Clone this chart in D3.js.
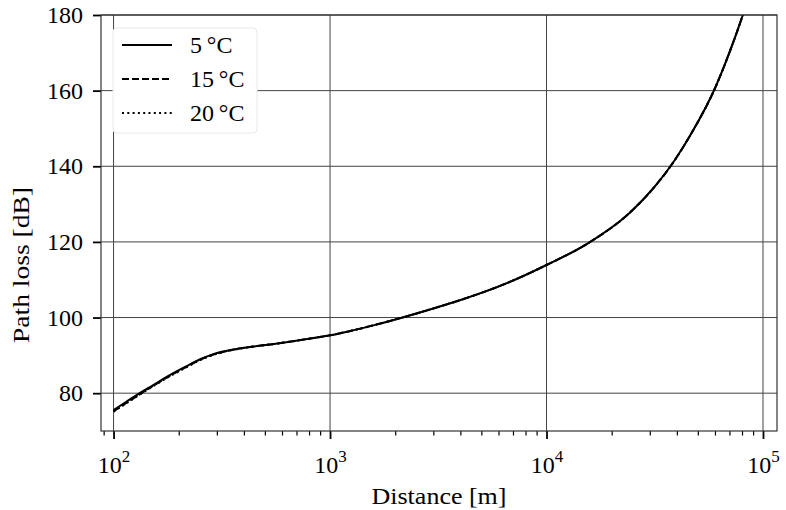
<!DOCTYPE html>
<html>
<head>
<meta charset="utf-8">
<script src="https://cdn.jsdelivr.net/npm/d3@7"></script>
<style>
  html, body { margin: 0; padding: 0; background: #fff; }
  svg { display: block; }
  text { font-family: "Liberation Serif", "DejaVu Serif", serif; fill: #000; }
</style>
</head>
<body>
<svg id="chart" width="786" height="510"></svg>
<script>
// ---- data ----
const distances = [100, 115, 132, 150, 181, 215, 250, 285, 320, 370, 426, 530, 651, 800, 1000, 1230, 1600, 2185, 3000, 4140, 6560, 10000, 15600, 23900, 31600, 39100, 46700, 60300, 70000, 80900, 100000];
const loss5C  = [75.5, 77.8, 80.0, 81.9, 84.7, 87.0, 88.9, 90.2, 91.0, 91.7, 92.2, 92.9, 93.6, 94.4, 95.3, 96.4, 98.0, 100.1, 102.4, 104.9, 109.1, 113.9, 119.7, 127.4, 134.6, 141.6, 148.7, 160.9, 170.1, 180.2, 197.7];
const loss15C = [75.2, 77.5, 79.7, 81.7, 84.5, 86.8, 88.8, 90.1, 90.9, 91.7, 92.2, 92.9, 93.6, 94.4, 95.3, 96.4, 98.0, 100.1, 102.4, 104.9, 109.1, 113.9, 119.7, 127.4, 134.6, 141.6, 148.7, 160.9, 170.1, 180.2, 197.7];
const loss20C = [75.1, 77.4, 79.6, 81.6, 84.4, 86.7, 88.7, 90.0, 90.9, 91.6, 92.2, 92.9, 93.6, 94.4, 95.3, 96.4, 98.0, 100.1, 102.4, 104.9, 109.1, 113.9, 119.7, 127.4, 134.6, 141.6, 148.7, 160.9, 170.1, 180.2, 197.7];
const seriesNames = ["5\u2009°C", "15\u2009°C", "20\u2009°C"];
const seriesValues = [loss5C, loss15C, loss20C];
const seriesDash = [null, "7,3", "2,3.3"];
const xMajorTicks = [1e2, 1e3, 1e4, 1e5];
const xTickExponents = ["2", "3", "4", "5"];
const yTicks = [80, 100, 120, 140, 160, 180];

// ---- layout ----
const svg = d3.select("#chart");
const pLeft = 101, pRight = 777, pTop = 15, pBottom = 431;

const x = d3.scaleLog().domain([Math.pow(10, 1.942), Math.pow(10, 5.0647)]).range([pLeft, pRight]);
const y = d3.scaleLinear().domain([70, 180]).range([pBottom, pTop]);

svg.append("defs").append("clipPath").attr("id", "plotclip")
  .append("rect").attr("x", pLeft).attr("y", pTop).attr("width", pRight - pLeft).attr("height", pBottom - pTop);

// grid
const grid = svg.append("g");
grid.selectAll("line.gx").data(xMajorTicks).join("line")
  .attr("x1", d => x(d)).attr("x2", d => x(d)).attr("y1", pTop).attr("y2", pBottom)
  .attr("stroke", "#444").attr("stroke-width", 1);
grid.selectAll("line.gy").data(yTicks).join("line")
  .attr("x1", pLeft).attr("x2", pRight).attr("y1", d => y(d)).attr("y2", d => y(d))
  .attr("stroke", "#444").attr("stroke-width", 1);

// lines
const line = d3.line().x(d => x(d[0])).y(d => y(d[1])).curve(d3.curveMonotoneX);
const plot = svg.append("g").attr("clip-path", "url(#plotclip)");
seriesValues.forEach((vals, i) => {
  plot.append("path")
    .datum(distances.map((dv, j) => [dv, vals[j]]))
    .attr("d", line)
    .attr("fill", "none").attr("stroke", "#000").attr("stroke-width", 2)
    .attr("stroke-dasharray", seriesDash[i]);
});

// x axis (bottom) with minor ticks
const [dmin, dmax] = x.domain();
const minorTicks = [];
for (let e = 1; e <= 5; e++) for (let m = 2; m <= 9; m++) {
  const v = m * Math.pow(10, e);
  if (v >= dmin && v <= dmax) minorTicks.push(v);
}
const xAxisMinor = d3.axisBottom(x).tickValues(minorTicks).tickSize(4.5).tickFormat("");
const gxm = svg.append("g").attr("transform", `translate(0,${pBottom})`).call(xAxisMinor);
gxm.select(".domain").remove();
gxm.selectAll(".tick line").attr("stroke", "#000").attr("stroke-width", 1.2);

const xAxis = d3.axisBottom(x).tickValues(xMajorTicks).tickSize(8).tickFormat("");
const gx = svg.append("g").attr("transform", `translate(0,${pBottom})`).call(xAxis);
gx.select(".domain").remove();
gx.selectAll(".tick line").attr("stroke", "#000").attr("stroke-width", 1.8);
gx.selectAll(".tick").each(function(d, i) {
  const t = d3.select(this).append("text")
    .attr("y", 42).attr("text-anchor", "middle").attr("font-size", 24);
  t.append("tspan").text("10");
  t.append("tspan").attr("font-size", 17).attr("dy", -11).text(xTickExponents[i]);
});

// y axis
const yAxis = d3.axisLeft(y).tickValues(yTicks).tickSize(8).tickPadding(10).tickFormat(d3.format("d"));
const gy = svg.append("g").attr("transform", `translate(${pLeft},0)`).call(yAxis);
gy.select(".domain").remove();
gy.selectAll(".tick line").attr("stroke", "#000").attr("stroke-width", 1.8);
gy.selectAll(".tick text").attr("font-size", 24).attr("dy", "0.32em")
  .attr("font-family", "Liberation Serif, DejaVu Serif, serif").attr("fill", "#000");

// spines
svg.append("rect").attr("x", pLeft).attr("y", pTop).attr("width", pRight - pLeft).attr("height", pBottom - pTop)
  .attr("fill", "none").attr("stroke", "#333").attr("stroke-width", 1.2);

// axis labels
svg.append("text").attr("x", (pLeft + pRight) / 2).attr("y", 504)
  .attr("text-anchor", "middle").attr("font-size", 24)
  .attr("textLength", 135).attr("lengthAdjust", "spacingAndGlyphs")
  .text("Distance [m]");
svg.append("text").attr("transform", `translate(29,${(pTop + pBottom) / 2 + 42}) rotate(-90)`)
  .attr("text-anchor", "middle").attr("font-size", 24)
  .attr("textLength", 156).attr("lengthAdjust", "spacingAndGlyphs")
  .text("Path loss [dB]");

// legend
const lg = svg.append("g");
lg.append("rect").attr("x", 113).attr("y", 28).attr("width", 144).attr("height", 105).attr("rx", 4)
  .attr("fill", "#fff").attr("stroke", "#e8e8e8").attr("stroke-width", 1);
seriesNames.forEach((name, i) => {
  const yy = 45 + i * 34;
  lg.append("line").attr("x1", 122).attr("x2", 172).attr("y1", yy).attr("y2", yy)
    .attr("stroke", "#000").attr("stroke-width", 2).attr("stroke-dasharray", seriesDash[i]);
  lg.append("text").attr("x", 190).attr("y", yy + 8).attr("font-size", 24).text(name);
});
</script>
</body>
</html>
